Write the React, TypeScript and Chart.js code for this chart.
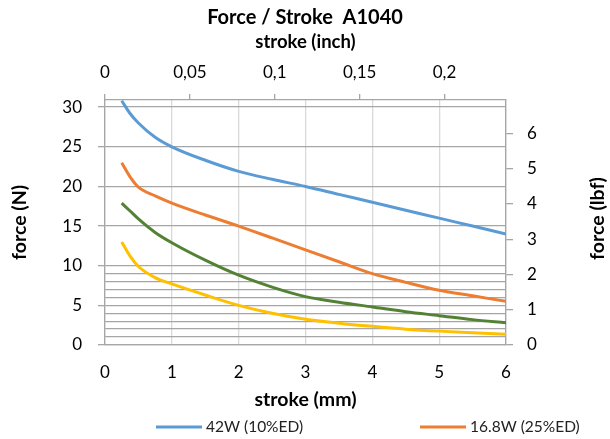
import React, { useEffect, useRef } from "react";
import { Chart, registerables } from "chart.js";

Chart.register(...registerables);

const TITLE = "Force / Stroke  A1040";
const X_TITLE = "stroke (mm)";
const X2_TITLE = "stroke (inch)";
const Y_TITLE = "force (N)";
const Y2_TITLE = "force (lbf)";

const STROKE_MM = [0.25, 0.375, 0.5, 0.75, 1, 1.5, 2, 2.5, 3, 3.5, 4, 4.5, 5, 5.5, 6];
const SERIES_LABELS = ["42W (10%ED)", "16.8W (25%ED)", "8.4W (50%ED)", "4.2W (100%ED)"];
const FORCE_42W = [30.8, 29.2, 28.0, 26.2, 25.0, 23.3, 21.9, 20.9, 20.0, 19.0, 18.0, 17.0, 16.0, 15.0, 14.0];
const FORCE_16W = [23.0, 21.2, 19.9, 18.8, 17.9, 16.4, 15.0, 13.5, 12.0, 10.5, 9.0, 7.9, 6.9, 6.2, 5.5];
const FORCE_8W = [17.9, 16.9, 15.9, 14.2, 12.9, 10.7, 8.8, 7.3, 6.1, 5.4, 4.8, 4.2, 3.7, 3.2, 2.8];
const FORCE_4W = [13.0, 11.2, 9.9, 8.5, 7.7, 6.3, 5.0, 4.0, 3.25, 2.75, 2.35, 2.0, 1.75, 1.55, 1.35];
const SERIES_COLORS = ["#5B9BD5", "#ED7D31", "#548235", "#FFC000"];
const LEGEND_SHOWN = [0, 1];

const MM_PER_INCH = 25.4;
const N_PER_LBF = 4.448;
const X_MIN = 0;
const X_MAX = 6;
const Y_MIN = 0;
const Y_MAX = 30.9;

const FONT = "Lato";
const GRID_DARK = "#a6a6a6";
const GRID_LIGHT = "#d9d9d9";

const extrasPlugin = {
  id: "extras",
  afterDraw(chart: any) {
    const { ctx, chartArea } = chart;
    ctx.save();
    ctx.font = `bold 19.5px ${FONT}`;
    ctx.fillStyle = "#000";
    ctx.textAlign = "center";
    ctx.textBaseline = "middle";
    ctx.translate(chart.width - 12, (chartArea.top + chartArea.bottom) / 2 - 4);
    ctx.rotate(-Math.PI / 2);
    ctx.fillText(Y2_TITLE, 0, 0);
    ctx.restore();

    const starts = [156, 420];
    LEGEND_SHOWN.forEach((di, k) => {
      const ds = chart.data.datasets[di];
      const x = starts[k];
      const y = 427;
      ctx.save();
      ctx.strokeStyle = ds.borderColor;
      ctx.lineWidth = 3;
      ctx.beginPath();
      ctx.moveTo(x, y);
      ctx.lineTo(x + 46, y);
      ctx.stroke();
      ctx.font = `15.5px ${FONT}`;
      ctx.fillStyle = "#222";
      ctx.textAlign = "left";
      ctx.textBaseline = "middle";
      ctx.fillText(ds.label, x + 50, y);
      ctx.restore();
    });
  },
};

export default function App() {
  const ref = useRef<HTMLCanvasElement | null>(null);

  useEffect(() => {
    if (!ref.current) return;
    const series = [FORCE_42W, FORCE_16W, FORCE_8W, FORCE_4W];
    const chart = new Chart(ref.current, {
      type: "line",
      data: {
        datasets: series.map((arr, i) => ({
          label: SERIES_LABELS[i],
          data: STROKE_MM.map((x, j) => ({ x, y: arr[j] })),
          borderColor: SERIES_COLORS[i],
          backgroundColor: SERIES_COLORS[i],
          borderWidth: 3,
          pointRadius: 0,
          tension: 0.35,
          cubicInterpolationMode: "monotone",
          xAxisID: "x",
          yAxisID: "y",
        })),
      },
      options: {
        animation: false,
        responsive: true,
        maintainAspectRatio: false,
        layout: { padding: 0 },
        plugins: {
          legend: { display: false },
          tooltip: { enabled: false },
          title: {
            display: true,
            text: TITLE,
            color: "#000",
            font: { family: FONT, size: 20, weight: "bold", lineHeight: 1.2 },
            padding: { top: 6, bottom: 0 },
          },
        },
        scales: {
          x: {
            type: "linear",
            position: "bottom",
            min: X_MIN,
            max: X_MAX,
            afterFit: (s: any) => { s.height = 94; },
            ticks: { stepSize: 1, padding: 17, color: "#000", font: { family: FONT, size: 17 } },
            grid: { color: GRID_LIGHT, lineWidth: 1.3, drawTicks: false },
            border: { color: GRID_DARK, width: 1.3 },
            title: {
              display: true,
              text: X_TITLE,
              color: "#000",
              font: { family: FONT, size: 19.5, weight: "bold", lineHeight: 1.2 },
              padding: { top: 0, bottom: 27.3 },
            },
          },
          x2: {
            type: "linear",
            position: "top",
            min: X_MIN / MM_PER_INCH,
            max: X_MAX / MM_PER_INCH,
            afterFit: (s: any) => { s.height = 70; },
            ticks: {
              stepSize: 0.05,
              includeBounds: false,
              autoSkip: false,
              padding: 11,
              color: "#000",
              font: { family: FONT, size: 17 },
              callback: (v: any) => String(Math.round(Number(v) * 100) / 100).replace(".", ","),
            },
            grid: { drawOnChartArea: false, drawTicks: true, tickLength: 6, color: GRID_DARK, lineWidth: 1.3 },
            border: { color: GRID_DARK, width: 1.3 },
            title: {
              display: true,
              text: X2_TITLE,
              color: "#000",
              font: { family: FONT, size: 18.5, weight: "bold", lineHeight: 1.2 },
              padding: { top: 0.9, bottom: 0 },
            },
          },
          y: {
            type: "linear",
            position: "left",
            min: Y_MIN,
            max: Y_MAX,
            afterFit: (s: any) => { s.width = 105; },
            ticks: {
              stepSize: 1,
              includeBounds: false,
              autoSkip: false,
              padding: 16,
              color: "#000",
              font: { family: FONT, size: 17 },
              callback: (v: any) => (Number(v) % 5 === 0 ? String(v) : ""),
            },
            grid: {
              lineWidth: 1.3,
              tickLength: 7,
              color: (c: any) => {
                const v = c.tick ? c.tick.value : 0;
                return v % 5 === 0 || v < 10 ? GRID_DARK : "rgba(0,0,0,0)";
              },
              tickColor: (c: any) => {
                const v = c.tick ? c.tick.value : 0;
                return v % 5 === 0 ? GRID_DARK : "rgba(0,0,0,0)";
              },
            },
            border: { color: GRID_DARK, width: 1.3 },
            title: {
              display: true,
              text: Y_TITLE,
              color: "#000",
              font: { family: FONT, size: 19.5, weight: "bold", lineHeight: 1.2 },
              padding: { top: 8.3, bottom: 0 },
            },
          },
          y2: {
            type: "linear",
            position: "right",
            min: Y_MIN / N_PER_LBF,
            max: Y_MAX / N_PER_LBF,
            afterFit: (s: any) => { s.width = 104; },
            ticks: {
              stepSize: 1,
              includeBounds: false,
              autoSkip: false,
              padding: 14,
              color: "#000",
              font: { family: FONT, size: 17 },
            },
            grid: { drawOnChartArea: false, tickLength: 7, color: GRID_DARK, lineWidth: 1.3 },
            border: { color: GRID_DARK, width: 1.3 },
            title: { display: false },
          },
        },
      } as any,
      plugins: [extrasPlugin],
    });
    return () => chart.destroy();
  }, []);

  return (
    <div style={{ position: "absolute", left: 0, top: 0, width: 610, height: 439, background: "#fff" }}>
      <canvas ref={ref} />
    </div>
  );
}
